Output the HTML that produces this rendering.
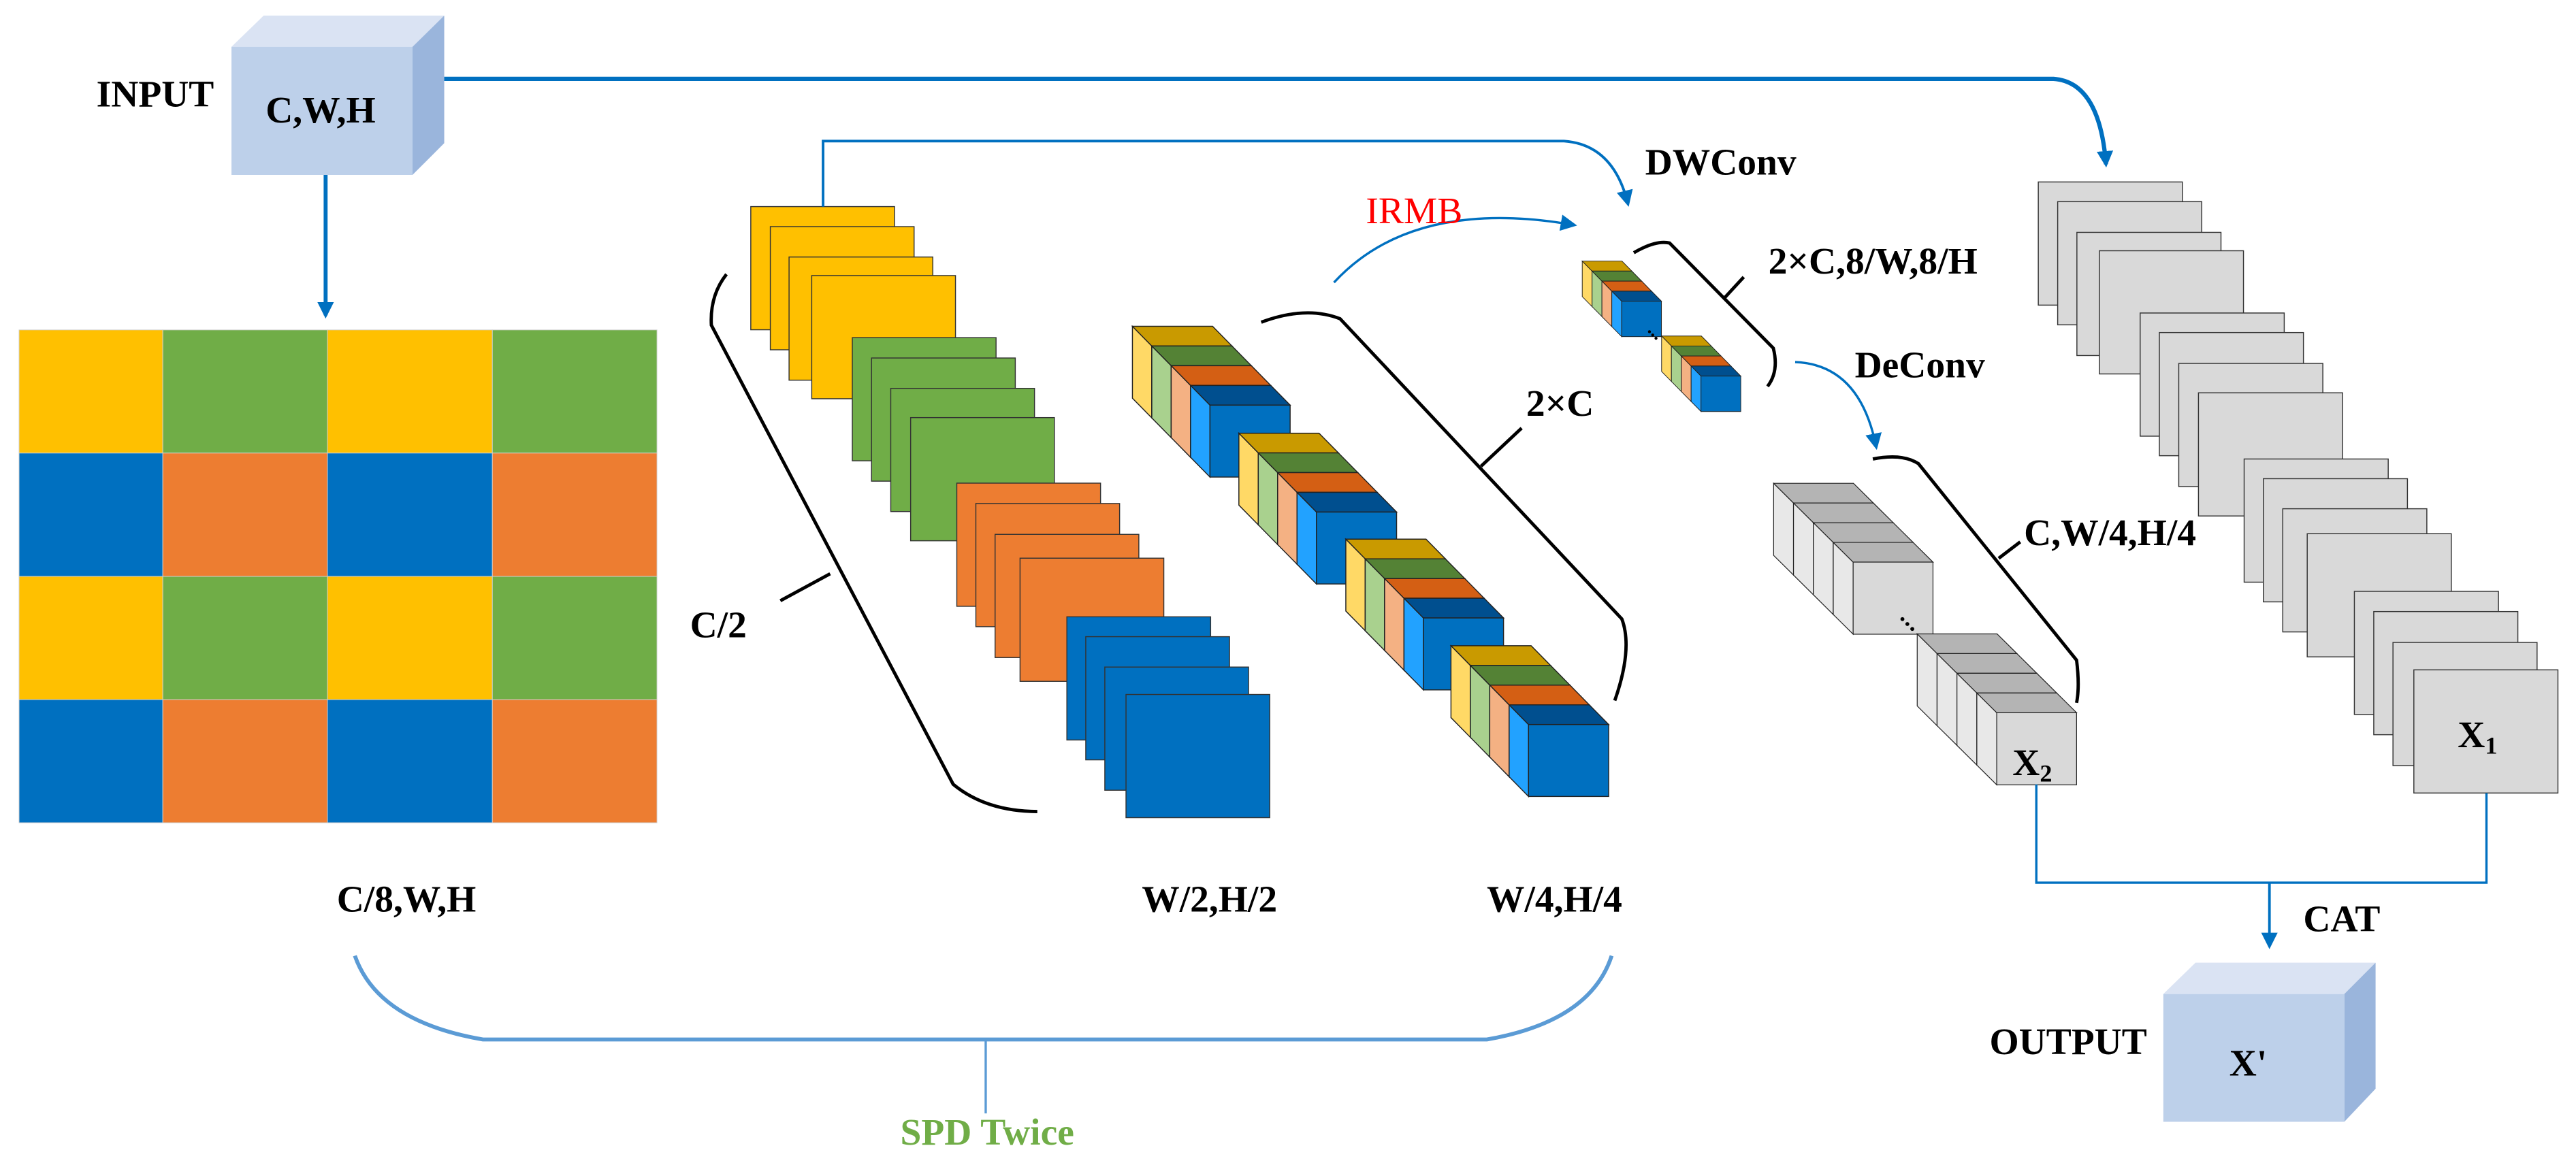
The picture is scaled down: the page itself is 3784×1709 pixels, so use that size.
<!DOCTYPE html>
<html><head><meta charset="utf-8"><style>
html,body{margin:0;padding:0;background:#fff;}
svg{display:block;}
text{font-family:"Liberation Serif",serif;font-weight:bold;font-size:23px;fill:#000;}
</style></head><body>
<svg id="s" width="3784" height="1709" viewBox="0 0 1568 708.2" preserveAspectRatio="none" xmlns="http://www.w3.org/2000/svg">
<defs>
<marker id="ah" markerWidth="10" markerHeight="10" refX="8" refY="5" orient="auto" markerUnits="userSpaceOnUse"><path d="M0,0 L10,5 L0,10 Z" fill="#0070c0"/></marker>
</defs>
<g id="g"></g>
<!-- INPUT cube -->
<polygon points="140.9,28.5 160.5,9.5 270.4,9.5 251.1,28.5" fill="#dae3f3"/>
<polygon points="251.1,28.5 270.4,9.5 270.4,87.2 251.1,106.5" fill="#9ab5dc"/>
<rect x="140.9" y="28.5" width="110.2" height="78" fill="#bdd0ea"/>
<text x="161.7" y="74.5">C,W,H</text>
<text x="58.7" y="64.8">INPUT</text>
<!-- OUTPUT cube -->
<polygon points="1316.8,605.3 1336.4,586.2 1446,586.2 1427,605.3" fill="#dae3f3"/>
<polygon points="1427,605.3 1446,586.2 1446,663 1427,683.1" fill="#9ab5dc"/>
<rect x="1316.8" y="605.3" width="110.2" height="77.8" fill="#bdd0ea"/>
<text x="1357" y="655">X'</text>
<text x="1211" y="642">OUTPUT</text>
<!-- connectors -->
<g fill="none" stroke="#0070c0" stroke-width="2">
<path d="M270.4,48 L1250,48 Q1278,50 1281.9,100" stroke-width="2.6" marker-end="url(#ah)"/>
<path d="M198.2,106.5 L198.2,192" stroke-width="2.4" marker-end="url(#ah)"/>
<path d="M501,125.8 L501,85.9 L952,85.9 Q982,88 990.9,124" stroke-width="1.6" marker-end="url(#ah)"/>
<path d="M812,172 Q860,120 958,137" stroke-width="1.4" marker-end="url(#ah)"/>
<path d="M1092.7,220.5 Q1132,222 1142,272" stroke-width="1.4" marker-end="url(#ah)"/>
<path d="M1239.5,477.7 L1239.5,537.5 L1513.5,537.5 L1513.5,483" stroke-width="1.4"/>
<path d="M1381.4,537.5 L1381.4,576" stroke-width="1.6" marker-end="url(#ah)"/>
</g>
<g fill="none" stroke="#5b9bd5" stroke-width="2">
<path d="M216,582 Q230,622 294,633 L905,633 Q968,622 981,582" stroke-width="2.4"/>
<path d="M600,633 L600,678" stroke-width="1.4"/>
</g>
<!-- black brackets -->
<g fill="none" stroke="#000" stroke-width="2">
<path d="M442.2,167 Q432,180 433,198 L580.2,477.6 Q600,494 631.4,494.2"/>
<path d="M505.3,349.4 L475,365.8"/>
<path d="M767.7,196.2 Q795,186 815.7,194.1 L987.2,376.9 Q994,395 982.9,426.6"/>
<path d="M901.5,283.9 L926.2,260.7"/>
<path d="M994.5,153.9 Q1008,146 1016.3,148 L1079.4,212 Q1083,226 1075.9,235.3"/>
<path d="M1049.7,181.4 L1061.4,168.7"/>
<path d="M1140,279.5 Q1158,276 1167.7,282.3 L1264,402 Q1266,418 1264,428"/>
<path d="M1216.6,340 L1229.7,330"/>
</g>
<text x="1001.4" y="106.3">DWConv</text>
<text x="831.4" y="136" style="font-weight:normal;fill:#ff0000">IRMB</text>
<text x="929" y="253.2">2×C</text>
<text x="1076.4" y="166.6">2×C,8/W,8/H</text>
<text x="1129" y="229.7">DeConv</text>
<text x="1232" y="332">C,W/4,H/4</text>
<text x="1402" y="567">CAT</text>
<text x="420" y="388">C/2</text>
<text x="205" y="555">C/8,W,H</text>
<text x="695" y="555">W/2,H/2</text>
<text x="905" y="555">W/4,H/4</text>
<text x="548" y="697" style="fill:#70ad47">SPD Twice</text>
<text x="1225" y="472">X<tspan font-size="15" dy="4">2</tspan></text>
<text x="1496" y="455">X<tspan font-size="15" dy="4">1</tspan></text>
<g fill="#000"><circle cx="1158" cy="377" r="1.2"/><circle cx="1161" cy="380" r="1.2"/><circle cx="1164" cy="383" r="1.2"/>
<circle cx="1004" cy="202" r="0.9"/><circle cx="1006" cy="204" r="0.9"/><circle cx="1008" cy="206" r="0.9"/></g>
</svg>
<script>
var g=document.getElementById('g'),NS='http://www.w3.org/2000/svg';
function el(t,a){var e=document.createElementNS(NS,t);for(var k in a)e.setAttribute(k,a[k]);g.appendChild(e);return e;}
// grid
var C={y:'#ffc000',g:'#70ad47',b:'#0070c0',o:'#ed7d31'};
var rows=[['y','g','y','g'],['b','o','b','o'],['y','g','y','g'],['b','o','b','o']];
var xs=[11.6,99.1,199.3,299.7,399.9],ys=[200.9,275.9,351,426,501];
for(var r=0;r<4;r++)for(var c=0;c<4;c++)el('rect',{x:xs[c],y:ys[r],width:xs[c+1]-xs[c],height:ys[r+1]-ys[r],fill:C[rows[r][c]],stroke:'#d0d0d0','stroke-width':0.4});
// colored sheets
var sh=[[[457,125.8],[468.9,138],[480.3,156.5],[494.1,167.8],'y'],[[518.8,205.6],[530.5,218],[542.2,236.5],[554.3,254.3],'g'],[[582.4,294.2],[594,306.6],[605.7,325.4],[620.9,339.9],'o'],[[649.4,375.6],[660.9,387.7],[672.5,406.2],[685.4,422.9],'b']];
sh.forEach(function(s){for(var i=0;i<4;i++)el('rect',{x:s[i][0],y:s[i][1],width:87.5,height:75,fill:C[s[4]],stroke:'#333','stroke-width':0.6});});
// gray sheets
var gx=[[1240.7,1252.5,1264.2,1277.9],[1302.7,1314.4,1326.2,1338.2],[1366,1377.7,1389.5,1404.4],[1433.1,1444.9,1456.6,1469.3]];
var gy=[[110.8,122.8,141.5,152.7],[190.6,202.5,221.3,239.2],[279.5,291.5,309.8,325],[360.1,372.4,391.2,407.9]];
for(var a=0;a<4;a++)for(var i=0;i<4;i++)el('rect',{x:gx[a][i],y:gy[a][i],width:87.7,height:75,fill:'#d9d9d9',stroke:'#333','stroke-width':0.6});
// cube stacks
function stack(x0,y0,dx,dy,w,h,sides,tops,front,sw){
 for(var i=0;i<4;i++){var x=x0+i*dx,y=y0+i*dy;
  el('polygon',{points:[x,y,x+dx,y+dy,x+dx,y+dy+h,x,y+h].join(','),fill:sides[i],stroke:'#222','stroke-width':sw});
  el('polygon',{points:[x,y,x+w,y,x+w+dx,y+dy,x+dx,y+dy].join(','),fill:tops[i],stroke:'#222','stroke-width':sw});
  el('rect',{x:x+dx,y:y+dy,width:w,height:h,fill:front,stroke:'#222','stroke-width':sw});}
}
var cs=['#ffd966','#a9d18e','#f4b183','#22a2ff'],ct=['#c99a00','#548235','#d45f14','#004f8f'];
[[689.3,198.7],[754.1,263.8],[819.2,328.3],[883.2,393.2]].forEach(function(p){stack(p[0],p[1],11.8,12,48.8,43.8,cs,ct,'#0070c0',0.6);});
[[963.1,159],[1011.4,204.6]].forEach(function(p){stack(p[0],p[1],6,6.1,24.2,21.6,cs,ct,'#0070c0',0.4);});
var gs=['#e8e8e8','#e8e8e8','#e8e8e8','#e8e8e8'],gt=['#b4b4b4','#b4b4b4','#b4b4b4','#b4b4b4'];
[[1079.6,294.3],[1167,386]].forEach(function(p){stack(p[0],p[1],12.1,12,48.6,43.9,gs,gt,'#d9d9d9',0.5);});
</script>
</body></html>
